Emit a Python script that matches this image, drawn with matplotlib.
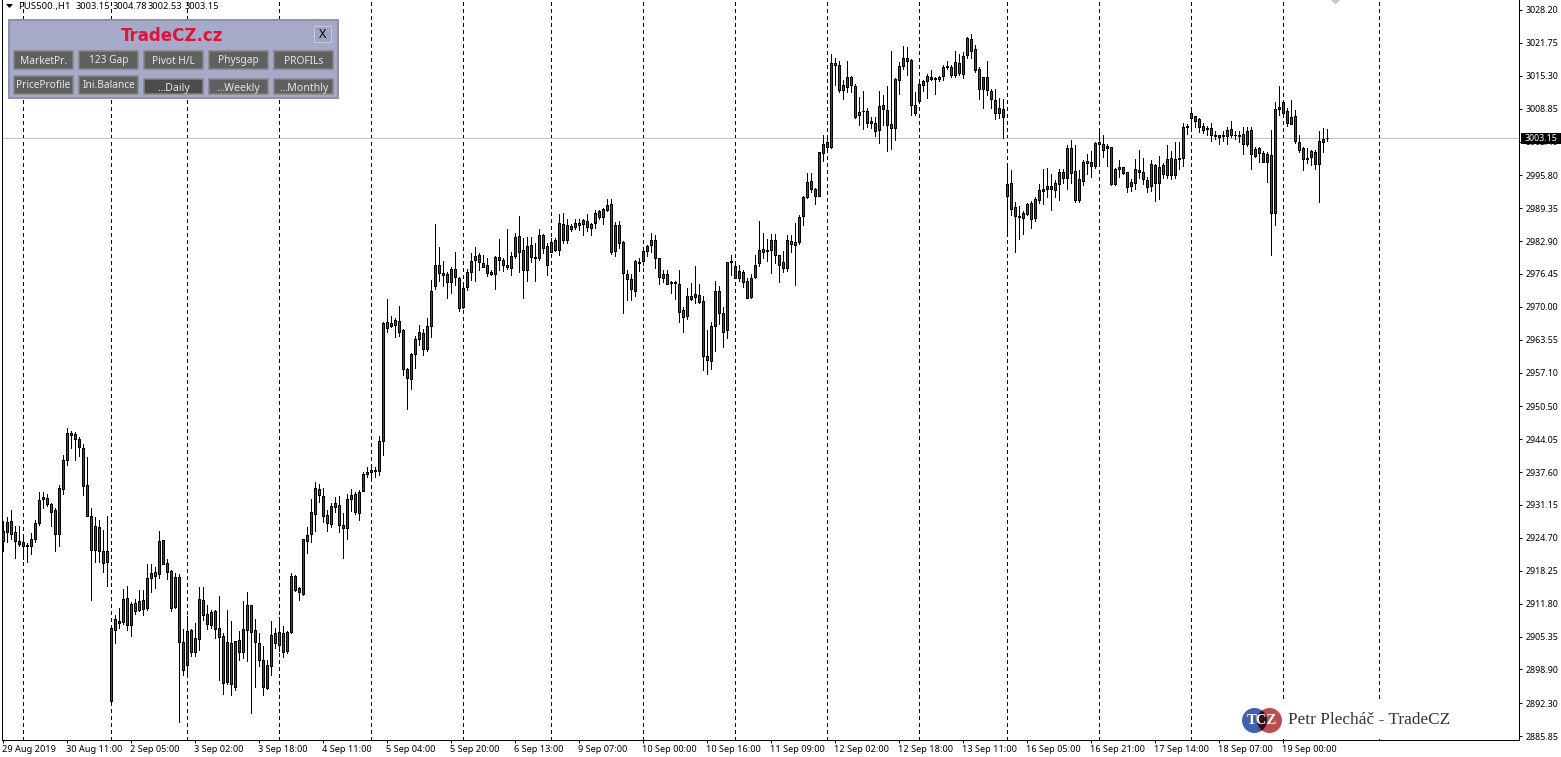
import matplotlib
matplotlib.use("Agg")
import matplotlib.pyplot as plt
from matplotlib.patches import Rectangle, Circle, Polygon

plt.rcParams['font.family'] = ['Noto Sans', 'DejaVu Sans']

opens = [
2924.1,2925.9,2928.1,2925.8,2924.0,2923.8,2923.2,2923.2,2924.5,2927.7,
2932.4,2932.6,2931.3,2930.1,2925.5,2934.2,2940.0,2944.9,2945.0,2944.0,
2942.4,2935.0,2928.9,2922.4,2926.9,2922.2,2920.0,2892.7,2906.7,2908.5,
2908.3,2913.0,2907.7,2911.9,2910.5,2912.6,2911.0,2916.8,2918.1,2917.7,
2924.2,2919.7,2918.3,2911.2,2917.1,2904.2,2899.8,2906.6,2902.4,2904.9,
2912.6,2909.7,2907.7,2910.3,2907.0,2905.4,2896.5,2904.0,2895.5,2904.6,
2902.4,2906.7,2911.5,2906.6,2904.0,2900.7,2895.3,2899.6,2906.0,2903.6,
2906.0,2902.6,2906.2,2917.3,2914.8,2913.7,2924.1,2925.4,2929.4,2934.2,
2933.0,2929.1,2927.5,2930.8,2931.1,2927.3,2926.7,2932.4,2933.4,2929.6,
2933.8,2937.3,2937.7,2937.9,2937.8,2943.7,2967.0,2966.3,2966.5,2967.2,
2965.4,2957.8,2955.9,2960.8,2963.6,2964.8,2961.8,2966.3,2974.0,2978.3,
2976.6,2976.4,2974.9,2977.4,2975.6,2970.0,2973.8,2976.8,2979.1,2980.1,
2978.5,2978.2,2976.8,2976.5,2979.7,2979.1,2978.3,2977.7,2980.0,2983.8,
2981.1,2977.3,2982.1,2979.6,2979.5,2984.0,2981.9,2980.8,2983.2,2981.2,
2986.2,2983.2,2985.9,2985.6,2986.1,2986.3,2986.8,2985.5,2986.4,2988.8,
2987.7,2989.0,2990.1,2980.9,2986.0,2982.8,2976.4,2975.4,2973.2,2978.6,
2979.0,2981.0,2982.2,2983.2,2979.5,2975.7,2976.4,2974.8,2974.8,2974.5,
2969.3,2968.3,2972.2,2971.9,2972.4,2971.1,2960.3,2959.4,2966.3,2973.2,
2968.7,2965.4,2978.7,2978.1,2975.7,2976.8,2975.0,2971.9,2975.9,2978.5,
2981.3,2981.0,2981.2,2983.2,2980.1,2978.7,2977.7,2983.0,2982.2,2982.8,
2987.9,2991.5,2994.6,2993.1,2991.8,3000.1,3002.3,3001.4,3017.8,3017.4,
3012.5,3013.2,3015.0,3013.3,3007.6,3008.3,3008.4,3006.4,3006.0,3004.6,
3008.7,3008.5,3005.8,3005.0,3014.4,3017.3,3018.7,3018.4,3009.5,3010.4,
3013.5,3014.2,3015.0,3014.6,3014.6,3015.2,3017.0,3017.0,3015.5,3017.8,
3015.7,3019.3,3022.5,3020.5,3016.6,3012.8,3015.0,3012.3,3010.5,3008.1,
3008.7,2991.8,2994.2,2989.5,2987.7,2987.5,2988.2,2990.3,2987.5,2991.0,
2992.8,2993.2,2993.7,2992.9,2994.0,2996.4,2995.3,3001.1,2996.6,2991.0,
2994.6,2998.2,2998.4,2997.6,3001.9,3001.9,3001.5,3001.3,2994.0,2997.1,
2997.4,2996.4,2993.6,2994.2,2996.8,2996.4,2994.8,2993.6,2997.8,2994.2,
2997.8,2995.9,2999.1,2995.9,2998.9,2999.1,3005.3,3008.0,3007.4,3006.8,
3005.4,3005.0,3005.0,3003.4,3003.3,3003.5,3003.5,3004.8,3003.6,3003.7,
3003.8,3001.9,3004.6,2999.6,3001.1,3000.1,2998.3,2999.7,2988.3,3009.1,
3010.1,3008.4,3005.9,3007.4,3002.3,3001.1,2998.9,2999.3,3000.3,2998.1,
3002.4,3003.15]

highs = [
2928.0,2928.8,2930.2,2927.0,2927.0,2924.6,2923.6,2925.7,2928.2,2933.6,
2933.7,2933.3,2931.6,2930.5,2935.0,2940.9,2946.2,2945.6,2945.4,2944.4,
2943.2,2940.5,2930.5,2928.7,2928.2,2926.2,2929.0,2907.1,2909.5,2910.9,
2914.7,2915.3,2912.2,2912.8,2914.5,2914.5,2919.6,2919.6,2918.9,2926.0,
2924.3,2920.5,2918.5,2917.9,2917.7,2906.8,2909.4,2906.8,2908.1,2915.0,
2915.0,2911.6,2910.5,2910.5,2913.4,2906.0,2910.5,2908.4,2904.5,2906.4,
2912.3,2914.1,2911.6,2908.8,2906.0,2903.5,2900.7,2908.4,2907.1,2909.1,
2907.4,2906.5,2917.9,2917.4,2915.1,2924.5,2926.9,2932.3,2935.6,2935.2,
2934.4,2930.2,2931.6,2932.8,2932.9,2929.5,2933.3,2934.2,2933.6,2934.1,
2937.7,2938.5,2939.0,2938.5,2944.6,2967.0,2971.5,2968.2,2967.8,2970.1,
2965.6,2958.0,2960.9,2964.2,2966.4,2965.6,2967.8,2975.3,2986.3,2981.7,
2978.9,2976.9,2977.9,2980.7,2975.9,2974.3,2977.4,2980.5,2981.7,2980.6,
2980.1,2979.5,2977.2,2980.0,2983.3,2979.5,2985.3,2980.8,2984.4,2987.8,
2983.4,2983.6,2983.6,2982.5,2985.3,2984.3,2982.5,2983.4,2983.4,2988.2,
2988.3,2987.2,2986.3,2987.2,2987.2,2987.2,2988.2,2986.4,2989.0,2989.0,
2989.3,2991.1,2991.1,2986.6,2986.8,2983.0,2977.2,2976.4,2979.2,2979.5,
2981.1,2982.2,2984.4,2984.0,2979.5,2977.2,2977.2,2975.1,2975.1,2977.2,
2969.9,2973.7,2974.6,2978.0,2974.4,2972.2,2965.4,2967.1,2975.0,2974.1,
2969.9,2978.7,2980.2,2978.2,2978.2,2977.2,2975.6,2976.4,2980.2,2986.8,
2984.5,2983.3,2984.2,2984.3,2980.1,2980.9,2984.0,2984.0,2986.4,2988.0,
2991.7,2996.2,2996.3,2993.3,3000.4,3003.6,3003.5,3019.6,3018.7,3018.2,
3014.5,3018.2,3015.3,3013.7,3011.1,3012.3,3008.9,3007.2,3007.2,3012.3,
3011.6,3013.3,3020.2,3014.8,3018.0,3021.2,3021.0,3018.5,3012.1,3014.5,
3014.5,3015.7,3016.5,3015.0,3015.3,3017.4,3018.2,3017.4,3020.1,3019.6,
3020.0,3023.0,3023.5,3021.4,3017.0,3015.1,3018.2,3012.7,3012.7,3010.9,
3010.8,2997.6,2996.9,2990.5,2989.7,2988.7,2990.4,2990.8,2991.6,2994.1,
2997.0,2997.2,2996.1,2994.9,2997.0,2997.0,3001.8,3002.7,3001.8,2996.9,
2998.8,3000.0,3000.6,3002.3,3004.7,3003.7,3001.9,3001.4,2997.3,2998.8,
2997.4,2996.4,2995.0,2999.0,3000.8,2999.1,2995.5,2998.8,2998.0,2999.5,
2998.2,3001.8,3000.6,3002.3,3002.4,3006.1,3005.8,3008.3,3007.4,3007.1,
3006.1,3005.5,3006.0,3004.4,3003.7,3004.5,3005.3,3006.5,3004.4,3004.4,
3005.3,3005.2,3005.2,3001.4,3001.4,3000.6,3000.4,3004.6,3010.1,3013.3,
3010.6,3008.9,3010.6,3008.6,3003.6,3001.3,3001.1,3000.8,3000.8,3004.4,
3005.0,3004.78]

lows = [
2922.2,2923.9,2924.5,2920.8,2923.1,2920.5,2920.0,2921.5,2923.8,2927.3,
2930.5,2930.9,2927.0,2922.2,2923.2,2933.4,2939.0,2942.4,2940.0,2940.8,
2933.1,2929.0,2912.5,2920.0,2920.0,2918.0,2915.3,2892.3,2904.1,2907.0,
2907.8,2906.6,2905.4,2909.8,2910.4,2909.6,2910.5,2914.1,2914.9,2916.8,
2919.6,2916.7,2910.3,2910.9,2888.6,2897.8,2898.0,2901.6,2901.5,2902.7,
2908.6,2906.9,2907.1,2905.1,2896.8,2894.1,2896.0,2893.9,2894.9,2900.7,
2901.1,2900.5,2890.4,2895.5,2899.6,2893.9,2895.0,2897.8,2903.2,2902.6,
2901.3,2902.2,2906.0,2914.3,2912.5,2913.5,2921.8,2923.9,2926.1,2931.8,
2927.9,2926.1,2926.9,2929.8,2925.9,2920.7,2924.5,2930.0,2929.4,2928.2,
2933.8,2936.7,2935.9,2936.7,2937.0,2940.9,2965.1,2966.1,2964.1,2964.3,
2956.6,2950.0,2953.9,2958.0,2962.5,2960.6,2961.4,2964.0,2973.4,2975.1,
2974.0,2971.7,2972.8,2974.3,2969.1,2969.7,2973.3,2975.3,2975.1,2977.2,
2977.9,2976.1,2976.2,2973.5,2977.2,2977.1,2977.4,2976.3,2979.5,2976.9,
2971.8,2975.1,2978.7,2975.1,2979.1,2980.6,2976.3,2980.8,2981.0,2980.2,
2982.5,2982.5,2984.9,2985.2,2985.1,2984.1,2984.9,2984.1,2985.5,2987.2,
2986.2,2988.8,2980.4,2980.0,2981.6,2968.8,2971.3,2971.3,2972.1,2977.0,
2978.2,2980.0,2980.7,2977.6,2974.5,2974.9,2974.5,2972.7,2971.5,2967.1,
2965.1,2967.7,2971.3,2970.7,2970.8,2957.6,2956.8,2957.9,2961.3,2966.6,
2962.2,2963.9,2976.2,2975.6,2975.1,2973.9,2971.7,2971.8,2975.7,2978.0,
2979.6,2979.0,2976.6,2978.5,2974.9,2976.8,2977.1,2980.7,2974.3,2982.4,
2986.0,2991.4,2992.6,2990.1,2991.8,2998.6,3000.9,3001.1,3013.5,3012.1,
3010.8,3012.1,3012.1,3007.0,3005.7,3004.9,3005.3,3005.1,3003.5,3002.1,
3005.6,3000.6,3001.0,3002.8,3011.8,3016.7,3015.5,3007.7,3007.7,3010.1,
3012.3,3011.0,3014.4,3011.8,3014.3,3014.5,3016.6,3015.1,3015.0,3015.5,
3014.9,3018.7,3018.7,3016.1,3010.8,3009.0,3011.6,3008.9,3006.8,3007.0,
3003.1,2984.1,2988.0,2980.8,2983.3,2984.3,2988.0,2985.5,2986.9,2990.4,
2990.1,2991.6,2988.9,2991.5,2991.0,2994.2,2993.2,2994.2,2990.5,2990.5,
2993.8,2996.0,2995.5,2997.2,2997.8,2999.3,2997.7,2993.9,2993.9,2995.4,
2996.1,2992.6,2992.7,2993.1,2995.2,2994.1,2992.5,2992.8,2990.8,2991.1,
2995.2,2995.2,2995.1,2995.2,2997.0,2997.6,3003.8,3005.3,3005.2,3004.2,
3004.0,3003.6,3002.6,3003.0,3001.9,3002.6,3001.9,3003.3,3002.9,3002.3,
2999.9,3001.6,2997.0,2999.3,2998.3,2998.3,2994.4,2980.1,2986.1,3007.6,
3007.8,3005.5,3005.8,3002.1,3000.4,2996.9,2998.2,2997.8,2997.0,2990.6,
3000.3,3002.53]

closes = [
2926.0,2927.9,2925.5,2924.1,2923.5,2923.2,2923.3,2924.4,2927.7,2932.2,
2932.8,2931.4,2929.8,2925.5,2934.4,2939.9,2945.2,2945.2,2944.1,2942.6,
2934.9,2929.0,2922.4,2927.1,2922.2,2919.8,2922.2,2907.0,2908.7,2908.1,
2912.8,2907.7,2911.7,2910.4,2912.4,2910.8,2916.8,2917.9,2917.3,2924.0,
2919.6,2918.1,2911.0,2917.0,2904.2,2898.7,2906.4,2902.4,2905.0,2912.8,
2909.6,2907.9,2910.1,2906.9,2905.3,2896.3,2904.2,2896.0,2904.4,2902.4,
2906.8,2911.5,2906.3,2904.2,2900.8,2895.5,2899.7,2905.6,2904.1,2906.2,
2902.4,2906.2,2917.3,2914.5,2914.0,2924.4,2925.2,2929.7,2934.4,2933.2,
2929.0,2927.7,2930.9,2931.5,2927.3,2926.7,2932.4,2933.2,2929.8,2933.6,
2937.3,2937.6,2938.1,2938.1,2943.6,2966.8,2965.9,2966.8,2967.4,2965.1,
2957.9,2956.1,2960.7,2963.6,2965.0,2961.7,2966.2,2973.2,2978.2,2976.7,
2976.2,2974.9,2977.4,2975.9,2969.7,2973.6,2976.8,2978.9,2979.9,2978.7,
2977.9,2976.7,2976.4,2979.7,2979.1,2978.3,2977.8,2979.9,2983.6,2980.8,
2977.2,2981.9,2979.8,2979.7,2984.0,2981.6,2978.3,2982.7,2981.1,2986.4,
2983.2,2986.0,2985.3,2986.4,2986.5,2987.0,2985.6,2986.3,2988.3,2987.7,
2989.1,2989.9,2980.7,2986.0,2982.6,2976.7,2975.4,2973.4,2978.9,2978.7,
2980.9,2981.9,2983.2,2979.6,2975.9,2976.4,2974.5,2974.6,2974.6,2969.0,
2968.1,2972.2,2971.6,2972.6,2971.0,2960.4,2959.6,2966.2,2973.2,2968.7,
2965.1,2978.7,2978.9,2975.6,2977.0,2974.9,2971.7,2975.6,2978.3,2981.1,
2980.8,2981.1,2983.2,2980.1,2978.3,2977.7,2983.2,2982.4,2982.8,2987.7,
2991.5,2994.4,2993.2,2991.7,3000.3,3001.9,3001.4,3017.8,3017.4,3012.6,
3013.5,3015.0,3013.5,3007.2,3008.2,3008.4,3006.1,3006.1,3004.4,3009.3,
3009.5,3005.6,3005.1,3014.6,3017.2,3018.7,3018.2,3009.5,3008.1,3013.6,
3014.2,3015.2,3014.6,3014.8,3015.0,3017.0,3017.2,3015.5,3018.0,3015.9,
3019.1,3022.7,3020.1,3016.4,3012.8,3015.0,3012.5,3010.7,3008.0,3008.9,
3007.2,2994.0,2989.1,2987.9,2987.8,2988.4,2990.1,2987.3,2991.1,2992.9,
2993.1,2993.7,2993.2,2994.2,2996.4,2995.2,3001.1,2996.3,2991.0,2995.0,
2998.4,2998.6,2997.7,3002.1,3002.3,3000.8,3001.1,2994.0,2997.0,2997.4,
2996.3,2993.4,2994.4,2997.0,2996.4,2995.0,2993.4,2998.0,2994.2,2997.4,
2996.1,2998.9,2995.9,2998.9,2999.1,3005.2,3005.5,3007.1,3006.4,3005.2,
3004.6,3004.8,3003.7,3003.7,3003.6,3003.7,3004.6,3003.6,3003.7,3003.5,
3001.9,3004.4,2999.9,3000.9,3000.1,2998.4,2999.9,2988.3,3008.7,3008.7,
3008.1,3006.0,3007.2,3002.5,3000.8,2998.9,2999.1,3000.5,2998.1,3002.5,
3002.9,3003.15]

period_bars = [5, 27, 46, 69, 92, 115, 137, 160, 183, 206, 229, 251, 274, 297, 320, 344]

time_labels = ["29 Aug 2019", "30 Aug 11:00", "2 Sep 05:00", "3 Sep 02:00", "3 Sep 18:00",
               "4 Sep 11:00", "5 Sep 04:00", "5 Sep 20:00", "6 Sep 13:00", "9 Sep 07:00",
               "10 Sep 00:00", "10 Sep 16:00", "11 Sep 09:00", "12 Sep 02:00", "12 Sep 18:00",
               "13 Sep 11:00", "16 Sep 05:00", "16 Sep 21:00", "17 Sep 14:00", "18 Sep 07:00",
               "19 Sep 00:00"]
time_bars = list(range(0, 336, 16))

price_ticks = [3028.20, 3021.75, 3015.30, 3008.85, 3002.40, 2995.80, 2989.35, 2982.90,
               2976.45, 2970.00, 2963.55, 2957.10, 2950.50, 2944.05, 2937.60, 2931.15,
               2924.70, 2918.25, 2911.80, 2905.35, 2898.90, 2892.30, 2885.85]
last_price = 3003.15
symbol = "PUS500.,H1"
quote = ["3003.15", "3004.78", "3002.53", "3003.15"]

W, H = 1561, 757
PX = 72 / 100
Y_TOP, Y_BOTTOM = 3030.16, 2885.12
fig = plt.figure(figsize=(W / 100, H / 100), dpi=100, facecolor='white')
ax = fig.add_axes([2.25 / W, (H - 739.75) / H, 1517 / W, 739.75 / H])
ax.set_xlim(-0.25, 379)
ax.set_ylim(Y_BOTTOM, Y_TOP)

x = list(range(len(closes)))
colors = ['#0a7010' if c >= o else '#d01010' for o, c in zip(opens, closes)]

ax.vlines(period_bars, Y_BOTTOM, Y_TOP, colors='black', linewidth=PX,
          linestyles=(0, (3, 3)), antialiased=False, zorder=1)
ax.axhline(last_price, color='#c0c0c0', linewidth=PX, antialiased=False, zorder=1.5)
ax.vlines(x, lows, highs, colors='black', linewidth=PX, antialiased=False, zorder=2)
ax.bar(x, [c - o for o, c in zip(opens, closes)], bottom=opens, width=0.5, color=colors,
       edgecolor='black', linewidth=PX, antialiased=False, zorder=3)

ax.spines['top'].set_visible(False)
for s in ['left', 'right', 'bottom']:
    ax.spines[s].set_linewidth(PX)
ax.yaxis.tick_right()
ax.set_yticks(price_ticks)
ax.set_yticklabels([f"{p:.2f}" for p in price_ticks], fontsize=6.4)
ax.set_xticks(time_bars)
ax.set_xticklabels(time_labels, fontsize=6.6, ha='left')
ax.tick_params(axis='y', length=3 * PX, width=PX, pad=2.2)
ax.tick_params(axis='x', length=3 * PX, width=PX, pad=1.5)
for lab in ax.get_xticklabels():
    lab.set_transform(lab.get_transform() + matplotlib.transforms.ScaledTranslation(-1.5 / 100, 0, fig.dpi_scale_trans))

# interface overlay in pixel coordinates
ov = fig.add_axes([0, 0, 1, 1], facecolor='none')
ov.set_xlim(0, W)
ov.set_ylim(H, 0)
ov.axis('off')

# header
ov.add_patch(Polygon([[6, 4], [13, 4], [9.5, 8]], closed=True, color='black', lw=0))
ov.text(18, 6.5, symbol, fontsize=6.9, va='center', ha='left', color='black')
for xp, q in zip([76, 113, 148, 185], quote):
    ov.text(xp, 6.5, q, fontsize=6.7, va='center', ha='left', color='black')

# grey marker at top
ov.add_patch(Polygon([[1331, 0], [1340, 0], [1335.5, 4.5]], closed=True, color='#c8c8c8', lw=0))

# panel
ov.add_patch(Rectangle((9, 20), 329, 78, facecolor='#a6a9c8', edgecolor='#8e92ad', lw=2 * PX, zorder=5))
ov.text(172, 36, "TradeCZ.cz", color='#dc143c', fontsize=12, fontweight='bold',
        family='DejaVu Sans', ha='center', va='center', zorder=6)
ov.add_patch(Rectangle((314, 26), 17, 16, facecolor='#a0a4c0', edgecolor='#c8cadc', lw=PX, zorder=6))
ov.text(322.5, 34, "X", color='black', fontsize=9, ha='center', va='center', zorder=7)

btn_x = [14, 79, 144, 209, 274]
row1 = ["MarketPr.", "123 Gap", "Pivot H/L", "Physgap", "PROFILs"]
row2 = ["PriceProfile", "Ini.Balance", "…Daily", "…Weekly", "…Monthly"]
BTN_FILL = '#606060'
BTN_EDGE = '#858585'
BTN_FONT = 7.3
for bx, t in zip(btn_x, row1):
    ov.add_patch(Rectangle((bx, 50.5), 59, 18, facecolor=BTN_FILL, edgecolor=BTN_EDGE, lw=1.5 * PX, zorder=6))
    ov.text(bx + 29.5, 61, t, color='#e6e6e6', fontsize=BTN_FONT, ha='center', va='center', zorder=7)
for k, (bx, t) in enumerate(zip(btn_x, row2)):
    if k < 2:
        ov.add_patch(Rectangle((bx, 75.5), 59, 18, facecolor=BTN_FILL, edgecolor=BTN_EDGE, lw=1.5 * PX, zorder=6))
        ov.text(bx + 29.5, 86, t, color='#e6e6e6', fontsize=BTN_FONT, ha='center', va='center', zorder=7)
    else:
        dark = k == 2
        p = Rectangle((bx, 79), 59, 15, facecolor='#4c4c4c' if dark else BTN_FILL,
                      edgecolor=BTN_EDGE, lw=1.5 * PX, zorder=6)
        ov.add_patch(p)
        txt = ov.text(bx + 29.5, 88, t, color='#e6e6e6', fontsize=BTN_FONT + 0.3, ha='center', va='center', zorder=7)
        txt.set_clip_path(Rectangle((bx, 78), 60, 15.5, transform=ov.transData))
        txt.set_clip_on(True)

# watermark
ov.add_patch(Rectangle((1238, 702), 215, 36.5, facecolor='white', edgecolor='none', zorder=5))
blue = Circle((1254.5, 720.5), 12.5, facecolor='#3f62ad', edgecolor='none', zorder=6)
red = Circle((1269.5, 720.5), 12.5, facecolor='#b85050', edgecolor='none', zorder=6)
ov.add_patch(blue)
ov.add_patch(red)
lens = Circle((1269.5, 720.5), 12.5, facecolor='#301020', edgecolor='none', zorder=6.5)
ov.add_patch(lens)
lens.set_clip_path(blue)
ov.text(1262, 720.5, "TCZ", color='white', fontsize=10.5, family='Liberation Serif', fontweight='bold',
        ha='center', va='center', zorder=7)
ov.text(1288, 720.5, "Petr Plecháč - TradeCZ", color='#333333', fontsize=12.4, family='Liberation Serif',
        ha='left', va='center', zorder=7)

# last price tag
ov.add_patch(Rectangle((1521, 132.5), 40, 11, facecolor='black', edgecolor='none', zorder=6))
ov.text(1525, 138.3, f"{last_price:.2f}", color='white', fontsize=6.4, ha='left', va='center', zorder=7)

fig.savefig("out.png", dpi=100)
